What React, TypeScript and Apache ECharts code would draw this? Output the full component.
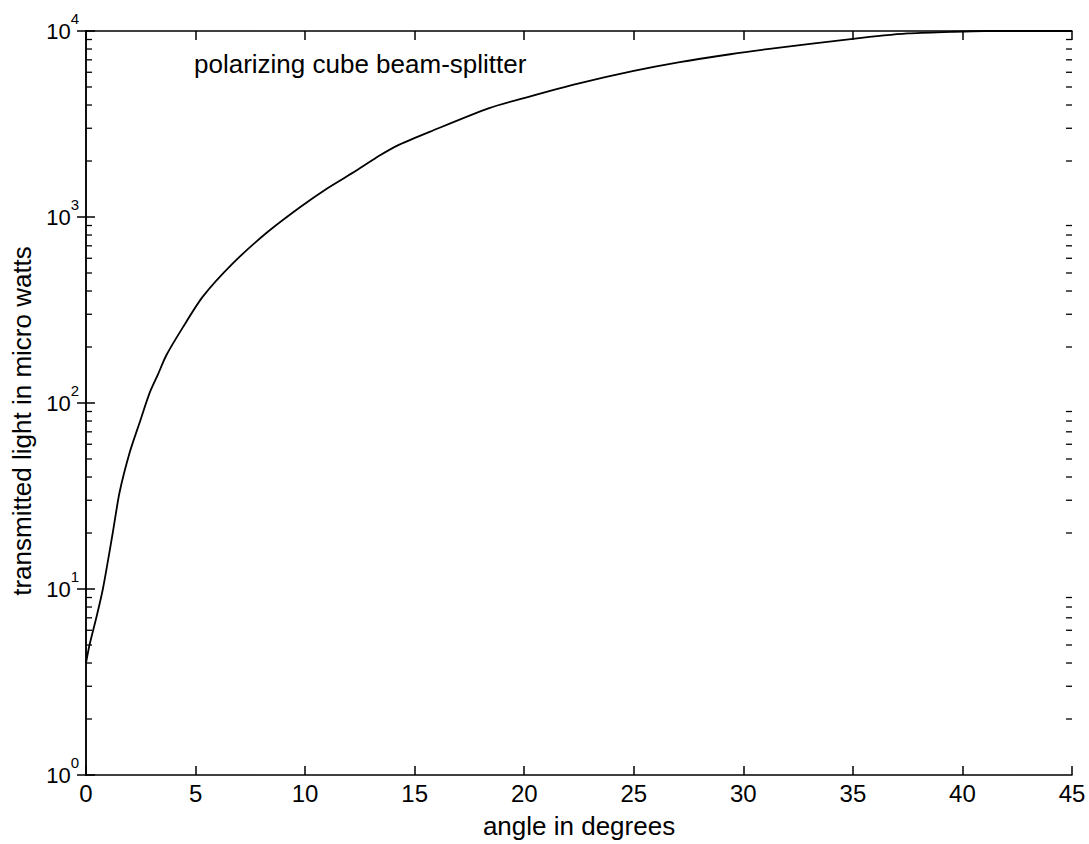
import React, { useEffect, useRef } from "react";
import * as echarts from "echarts";

// angle in degrees
const angles = [0, 0.16, 0.47, 0.77, 1.22, 1.53, 1.99, 2.44, 2.9, 3.28, 3.66, 4.42, 5.33, 6.7, 8.23, 9.75, 10.97, 12.34, 13.4, 14.3, 15.68, 18.4, 20.2, 22.5, 25.0, 27.1, 29.4, 31.1, 35.0, 37.5, 39.5, 41, 45];
// transmitted light in micro watts
const power = [4, 5, 7, 10, 20, 33, 54, 78, 113, 142, 180, 255, 373, 563, 820, 1125, 1416, 1776, 2140, 2450, 2870, 3850, 4430, 5230, 6100, 6800, 7500, 7980, 9080, 9700, 9900, 10000, 10000];

const xTicks = [0, 5, 10, 15, 20, 25, 30, 35, 40, 45];
const yDecades = [1, 10, 100, 1000, 10000];
const minorMultipliers = [2, 3, 4, 5, 6, 7, 8, 9];

const annotation = "polarizing cube beam-splitter";
const xName = "angle in degrees";
const yName = "transmitted light in micro watts";

const FONT = "'Liberation Sans', Arial, Helvetica, sans-serif";

export default function App() {
  const ref = useRef<HTMLDivElement>(null);
  useEffect(() => {
    if (!ref.current) return;
    const chart = echarts.init(ref.current, undefined, { renderer: "svg" });
    const minorVals: number[] = [];
    for (let i = 0; i < yDecades.length - 1; i++) {
      for (const m of minorMultipliers) minorVals.push(yDecades[i] * m);
    }
    const xMin = xTicks[0];
    const xMax = xTicks[xTicks.length - 1];
    const lineStyle = { color: "#000", width: 1.5 };
    chart.setOption({
      animation: false,
      backgroundColor: "#fff",
      textStyle: { fontFamily: FONT, color: "#000" },
      grid: { left: 86, right: 17, top: 31, bottom: 67 },
      xAxis: [
        {
          type: "value",
          min: xMin,
          max: xMax,
          interval: 5,
          position: "bottom",
          name: xName,
          nameLocation: "middle",
          nameGap: 38,
          nameTextStyle: { fontSize: 26, color: "#000", fontFamily: FONT },
          axisLine: { show: true, lineStyle },
          axisTick: { show: true, inside: true, length: 9, lineStyle },
          axisLabel: { show: true, fontSize: 24, color: "#000", margin: 6, fontFamily: FONT },
          splitLine: { show: false },
        },
        {
          type: "value",
          min: xMin,
          max: xMax,
          interval: 5,
          position: "top",
          axisLine: { show: true, lineStyle },
          axisTick: { show: true, inside: true, length: 9, lineStyle },
          axisLabel: { show: false },
          splitLine: { show: false },
        },
      ],
      yAxis: [
        {
          type: "log",
          logBase: 10,
          min: 1,
          max: 10000,
          position: "left",
          name: yName,
          nameLocation: "middle",
          nameGap: 49,
          nameTextStyle: { fontSize: 26, color: "#000", fontFamily: FONT, padding: [0, 36, 0, 0] },
          axisLine: { show: true, lineStyle },
          axisTick: { show: true, inside: true, length: 9, lineStyle },
          axisLabel: {
            show: true,
            margin: 7,
            formatter: (v: number) => `{b|10}{s|${Math.round(Math.log10(v))}}`,
            rich: {
              b: { fontSize: 22, color: "#000", fontFamily: FONT, lineHeight: 40, verticalAlign: "middle" },
              s: { fontSize: 15, color: "#000", fontFamily: FONT, lineHeight: 15, verticalAlign: "top" },
            },
          },
          splitLine: { show: false },
        },
        {
          type: "log",
          logBase: 10,
          min: 1,
          max: 10000,
          position: "right",
          axisLine: { show: true, lineStyle },
          axisTick: { show: true, inside: true, length: 9, lineStyle },
          axisLabel: { show: false },
          splitLine: { show: false },
        },
      ],
      graphic: [
        {
          type: "text",
          left: 194,
          top: 51,
          style: { text: annotation, fontSize: 26, fontFamily: FONT, fill: "#000" },
        },
      ],
      series: [
        {
          type: "line",
          data: angles.map((a, i) => [a, power[i]]),
          xAxisIndex: 0,
          yAxisIndex: 0,
          showSymbol: false,
          symbol: "none",
          smooth: 0.25,
          lineStyle: { color: "#000", width: 1.8 },
          silent: true,
        },
        {
          type: "custom",
          xAxisIndex: 0,
          yAxisIndex: 0,
          silent: true,
          clip: false,
          data: minorVals.map((v) => [xMin, v]),
          renderItem: (params: any, api: any) => {
            const v = api.value(1);
            const pL = api.coord([xMin, v]);
            const pR = api.coord([xMax, v]);
            const st = { stroke: "#000", lineWidth: 1.3 };
            return {
              type: "group",
              children: [
                { type: "line", shape: { x1: pL[0], y1: pL[1], x2: pL[0] + 6, y2: pL[1] }, style: st },
                { type: "line", shape: { x1: pR[0] - 6, y1: pR[1], x2: pR[0], y2: pR[1] }, style: st },
              ],
            };
          },
        },
      ],
    });
    return () => chart.dispose();
  }, []);
  return (
    <div
      ref={ref}
      style={{ position: "absolute", left: 0, top: 0, width: 1089, height: 844, background: "#fff" }}
    />
  );
}
